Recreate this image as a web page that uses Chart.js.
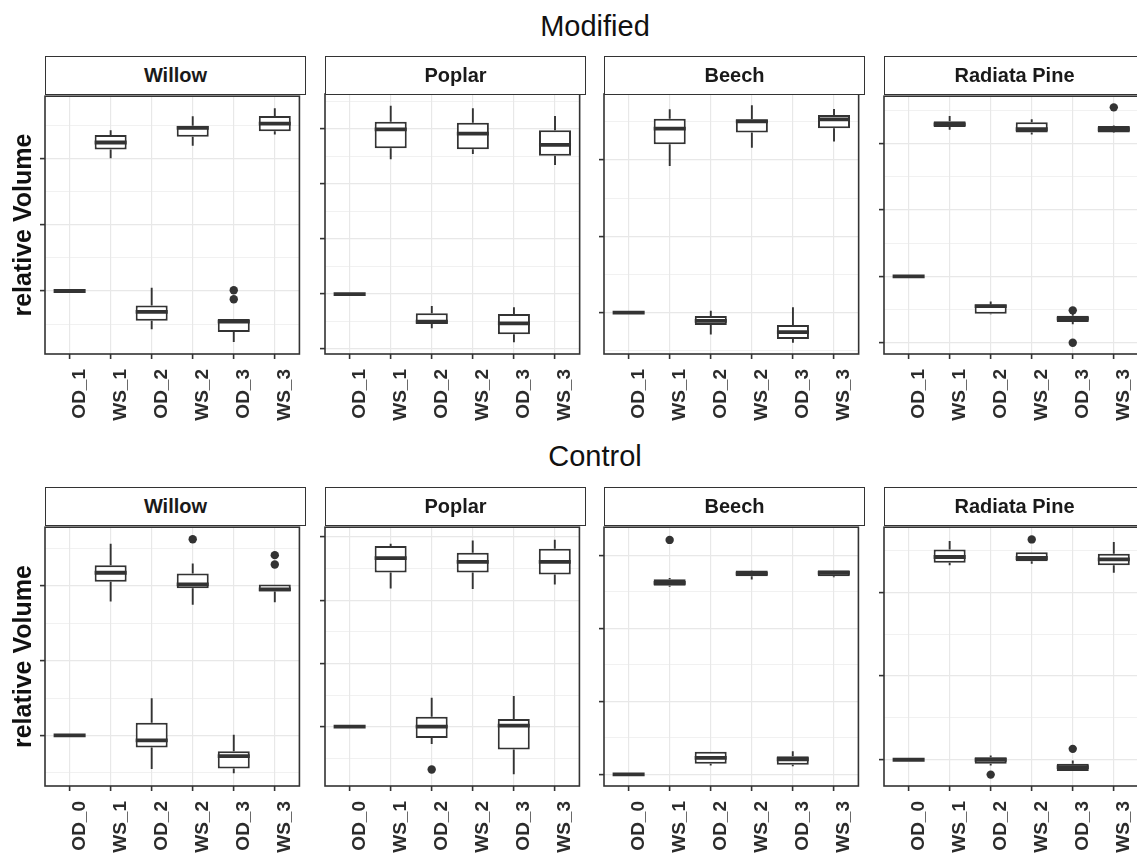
<!DOCTYPE html>
<html>
<head>
<meta charset="utf-8">
<script src="https://cdn.jsdelivr.net/npm/chart.js@4.4.1/dist/chart.umd.min.js"></script>
<style>
  html, body { margin: 0; padding: 0; background: #fff; overflow: hidden; }
  #page { position: relative; width: 1137px; height: 853px; overflow: hidden;
          font-family: "Liberation Sans", Arial, Helvetica, sans-serif; }
  .row-title { position: absolute; left: 45px; width: 1100px; text-align: center;
               font-size: 29px; line-height: 34px; color: #111; }
  .strip { position: absolute; box-sizing: border-box; border: 1.5px solid #333; background: #fff;
           text-align: center; font-weight: bold; font-size: 20px; color: #1a1a1a; z-index: 2; }
  canvas { position: absolute; }
</style>
</head>
<body>
<div id="page">
  <div class="row-title" style="top:9px">Modified</div>
  <div class="row-title" style="top:439px">Control</div>
</div>
<script>
// ---- categories -------------------------------------------------------
const species = ['Willow', 'Poplar', 'Beech', 'Radiata Pine'];
const modifiedCategories = ['OD_1', 'WS_1', 'OD_2', 'WS_2', 'OD_3', 'WS_3'];
const controlCategories  = ['OD_0', 'WS_1', 'OD_2', 'WS_2', 'OD_3', 'WS_3'];

// ---- box statistics per category: [lower whisker, Q1, median, Q3, upper whisker]
// Modified
const modWillowBoxes = [
  [1.0000, 1.0000, 1.0000, 1.0000, 1.0000],
  [1.1000, 1.1067, 1.1119, 1.1175, 1.1212],
  [0.9712, 0.9776, 0.9843, 0.9891, 1.0025],
  [1.1095, 1.1162, 1.1229, 1.1246, 1.1316],
  [0.9615, 0.9690, 0.9769, 0.9789, 0.9789],
  [1.1179, 1.1204, 1.1261, 1.1319, 1.1378]
];
const modPoplarBoxes = [
  [1.0000, 1.0000, 1.0000, 1.0000, 1.0000],
  [1.1225, 1.1325, 1.1497, 1.1566, 1.1712],
  [0.9688, 0.9727, 0.9748, 0.9825, 0.9891],
  [1.1273, 1.1315, 1.1457, 1.1557, 1.1688],
  [0.9561, 0.9634, 0.9734, 0.9818, 0.9879],
  [1.1173, 1.1257, 1.1355, 1.1488, 1.1618]
];
const modBeechBoxes = [
  [1.0000, 1.0000, 1.0000, 1.0000, 1.0000],
  [1.0961, 1.1104, 1.1206, 1.1271, 1.1333],
  [0.9856, 0.9919, 0.9946, 0.9978, 1.0013],
  [1.1081, 1.1180, 1.1254, 1.1267, 1.1359],
  [0.9803, 0.9828, 0.9872, 0.9919, 1.0035],
  [1.1121, 1.1208, 1.1267, 1.1296, 1.1335]
];
const modPineBoxes = [
  [1.0000, 1.0000, 1.0000, 1.0000, 1.0000],
  [1.1106, 1.1126, 1.1146, 1.1169, 1.1209],
  [0.9715, 0.9719, 0.9776, 0.9788, 0.9811],
  [1.1069, 1.1084, 1.1109, 1.1161, 1.1184],
  [0.9639, 0.9656, 0.9682, 0.9704, 0.9719],
  [1.1080, 1.1084, 1.1109, 1.1134, 1.1138]
];
// Control
const ctlWillowBoxes = [
  [1.0000, 1.0000, 1.0000, 1.0000, 1.0000],
  [1.0896, 1.1029, 1.1089, 1.1140, 1.1284],
  [0.9774, 0.9918, 0.9967, 1.0084, 1.0248],
  [1.0874, 1.0985, 1.1011, 1.1084, 1.1151],
  [0.9746, 0.9779, 0.9861, 0.9894, 1.0005],
  [1.0892, 1.0963, 1.0978, 1.1011, 1.1011]
];
const ctlPoplarBoxes = [
  [1.0000, 1.0000, 1.0000, 1.0000, 1.0000],
  [1.1093, 1.1219, 1.1334, 1.1429, 1.1447],
  [0.9864, 0.9911, 1.0000, 1.0078, 1.0230],
  [1.1089, 1.1219, 1.1303, 1.1376, 1.1473],
  [0.9623, 0.9819, 1.0008, 1.0060, 1.0243],
  [1.1125, 1.1203, 1.1303, 1.1407, 1.1478]
];
const ctlBeechBoxes = [
  [1.0000, 1.0000, 1.0000, 1.0000, 1.0000],
  [1.1284, 1.1291, 1.1311, 1.1336, 1.1345],
  [1.0061, 1.0073, 1.0113, 1.0156, 1.0156],
  [1.1334, 1.1357, 1.1374, 1.1395, 1.1397],
  [1.0056, 1.0066, 1.0104, 1.0124, 1.0158],
  [1.1350, 1.1357, 1.1379, 1.1397, 1.1397]
];
const ctlPineBoxes = [
  [1.0000, 1.0000, 1.0000, 1.0000, 1.0000],
  [1.1163, 1.1178, 1.1212, 1.1257, 1.1307],
  [0.9966, 0.9976, 1.0000, 1.0015, 1.0026],
  [1.1172, 1.1186, 1.1206, 1.1241, 1.1241],
  [0.9932, 0.9932, 0.9956, 0.9976, 0.9996],
  [1.1117, 1.1163, 1.1198, 1.1231, 1.1301]
];

// ---- outliers: [category index, value]
const modWillowOutliers = [[4, 1.0005], [4, 0.9938]];
const modPoplarOutliers = [];
const modBeechOutliers  = [];
const modPineOutliers   = [[4, 0.9744], [4, 0.9500], [5, 1.1274]];
const ctlWillowOutliers = [[3, 1.1313], [5, 1.1207], [5, 1.1144]];
const ctlPoplarOutliers = [[2, 0.9662]];
const ctlBeechOutliers  = [[1, 1.1605]];
const ctlPineOutliers   = [[2, 0.9911], [3, 1.1317], [4, 1.0065]];

// ---- y limits of each panel (free scales)
const modWillowRange = [0.9525, 1.1468];
const modPoplarRange = [0.9455, 1.1818];
const modBeechRange  = [0.9729, 1.1433];
const modPineRange   = [0.9415, 1.1358];
const ctlWillowRange = [0.9661, 1.1394];
const ctlPoplarRange = [0.9531, 1.1578];
const ctlBeechRange  = [0.9921, 1.1692];
const ctlPineRange   = [0.9843, 1.1390];

// major breaks every 0.05, minor breaks halfway between
const majorStep = 0.05;
const minorStep = 0.025;

// ---- facet layout --------------------------------------------------------
const FONT = '"Liberation Sans", Arial, Helvetica, sans-serif';
const panelLeft = [45, 325, 604, 884];
const panelWidth = 261;
const rowStripTop = [56, 487];
const rowPlotTop = [94, 525];
const rowPlotHeight = [260, 261];
const INK = '#333333';

const panels = [
  { row: 0, col: 0, cats: modifiedCategories, boxes: modWillowBoxes, outliers: modWillowOutliers, range: modWillowRange },
  { row: 0, col: 1, cats: modifiedCategories, boxes: modPoplarBoxes, outliers: modPoplarOutliers, range: modPoplarRange },
  { row: 0, col: 2, cats: modifiedCategories, boxes: modBeechBoxes,  outliers: modBeechOutliers,  range: modBeechRange },
  { row: 0, col: 3, cats: modifiedCategories, boxes: modPineBoxes,   outliers: modPineOutliers,   range: modPineRange },
  { row: 1, col: 0, cats: controlCategories,  boxes: ctlWillowBoxes, outliers: ctlWillowOutliers, range: ctlWillowRange },
  { row: 1, col: 1, cats: controlCategories,  boxes: ctlPoplarBoxes, outliers: ctlPoplarOutliers, range: ctlPoplarRange },
  { row: 1, col: 2, cats: controlCategories,  boxes: ctlBeechBoxes,  outliers: ctlBeechOutliers,  range: ctlBeechRange },
  { row: 1, col: 3, cats: controlCategories,  boxes: ctlPineBoxes,   outliers: ctlPineOutliers,   range: ctlPineRange }
];

function isMajor(v) {
  return Math.round(v / minorStep) % 2 === 0;
}

// whiskers under the boxes, medians and the panel frame on top
const boxPlotPlugin = {
  id: 'boxWhiskers',
  beforeDatasetsDraw(chart) {
    const { ctx, scales: { x, y } } = chart;
    const stats = chart.data.datasets[0].stats;
    ctx.save();
    ctx.strokeStyle = INK;
    ctx.lineWidth = 1.9;
    ctx.beginPath();
    stats.forEach((s, i) => {
      const px = x.getPixelForValue(i);
      ctx.moveTo(px, y.getPixelForValue(s[0]));
      ctx.lineTo(px, y.getPixelForValue(s[1]));
      ctx.moveTo(px, y.getPixelForValue(s[3]));
      ctx.lineTo(px, y.getPixelForValue(s[4]));
    });
    ctx.stroke();
    ctx.restore();
  },
  afterDatasetsDraw(chart) {
    const { ctx, scales: { y }, chartArea: a } = chart;
    const stats = chart.data.datasets[0].stats;
    const meta = chart.getDatasetMeta(0);
    ctx.save();
    ctx.strokeStyle = INK;
    ctx.lineWidth = 3.8;
    ctx.lineCap = 'butt';
    ctx.beginPath();
    meta.data.forEach((bar, i) => {
      const py = y.getPixelForValue(stats[i][2]);
      ctx.moveTo(bar.x - bar.width / 2, py);
      ctx.lineTo(bar.x + bar.width / 2, py);
    });
    ctx.stroke();
    ctx.lineWidth = 1.6;
    ctx.strokeRect(a.left, a.top, a.right - a.left, a.bottom - a.top);
    ctx.restore();
  }
};

const page = document.getElementById('page');

panels.forEach(p => {
  const yw = p.col === 0 ? 45 : 8;     // y-axis band (ticks, and title on the left column)
  const pad = 2;                       // room for the frame stroke
  const xh = 70;                       // x-axis band (ticks + rotated labels)
  const plotH = rowPlotHeight[p.row];
  const w = yw + panelWidth + pad;
  const h = pad + plotH + xh;

  // facet strip
  const strip = document.createElement('div');
  strip.className = 'strip';
  strip.textContent = species[p.col];
  const stripH = rowPlotTop[p.row] - rowStripTop[p.row] + 1;
  strip.style.left = panelLeft[p.col] + 'px';
  strip.style.top = rowStripTop[p.row] + 'px';
  strip.style.width = panelWidth + 'px';
  strip.style.height = stripH + 'px';
  strip.style.lineHeight = (stripH - 3) + 'px';
  page.appendChild(strip);

  const canvas = document.createElement('canvas');
  canvas.width = w;
  canvas.height = h;
  canvas.style.width = w + 'px';
  canvas.style.height = h + 'px';
  canvas.style.left = (panelLeft[p.col] - yw) + 'px';
  canvas.style.top = (rowPlotTop[p.row] - pad) + 'px';
  page.appendChild(canvas);

  new Chart(canvas, {
    type: 'bar',
    data: {
      datasets: [
        {
          type: 'bar',
          order: 1,
          data: p.boxes.map((b, i) => ({ x: i, y: [b[1], b[3]] })),
          stats: p.boxes,
          backgroundColor: '#ffffff',
          borderColor: INK,
          borderWidth: 2,
          borderSkipped: false,
          barPercentage: 0.78,
          categoryPercentage: 1
        },
        {
          type: 'scatter',
          order: 0,
          data: p.outliers.map(o => ({ x: o[0], y: o[1] })),
          pointRadius: 4.2,
          pointBackgroundColor: INK,
          pointBorderWidth: 0,
          showLine: false
        }
      ]
    },
    options: {
      responsive: false,
      animation: false,
      events: [],
      layout: { padding: { top: pad, right: pad, left: 0, bottom: 0 } },
      plugins: { legend: { display: false }, tooltip: { enabled: false }, title: { display: false } },
      scales: {
        x: {
          type: 'linear',
          min: -0.6,
          max: 5.6,
          offset: false,
          border: { display: false },
          grid: { offset: false, color: '#e8e8e8', lineWidth: 1.2, tickColor: INK, tickWidth: 1.6,
                  tickLength: 5, drawTicks: true },
          ticks: {
            stepSize: 1,
            includeBounds: false,
            autoSkip: false,
            minRotation: 90,
            maxRotation: 90,
            padding: 10,
            labelOffset: 10,
            color: '#2b2b2b',
            font: { family: FONT, size: 19, weight: 'bold' },
            callback: v => p.cats[v]
          },
          afterFit: s => { s.height = xh; }
        },
        y: {
          type: 'linear',
          min: p.range[0],
          max: p.range[1],
          beginAtZero: false,
          border: { display: false },
          grid: {
            color: '#e8e8e8',
            lineWidth: c => (isMajor(c.tick.value) ? 1.2 : 0.6),
            tickColor: c => (isMajor(c.tick.value) ? INK : 'rgba(0,0,0,0)'),
            tickWidth: 1.6,
            tickLength: 5,
            drawTicks: true
          },
          ticks: { display: false, stepSize: minorStep, includeBounds: false, maxTicksLimit: 100 },
          title: p.col === 0
            ? { display: true, text: 'relative Volume', color: '#111', padding: { top: 9, bottom: 0 },
                font: { family: FONT, size: 25, weight: 'bold' } }
            : { display: false },
          afterFit: s => { s.width = yw; }
        }
      }
    },
    plugins: [boxPlotPlugin]
  });
});
</script>
</body>
</html>
